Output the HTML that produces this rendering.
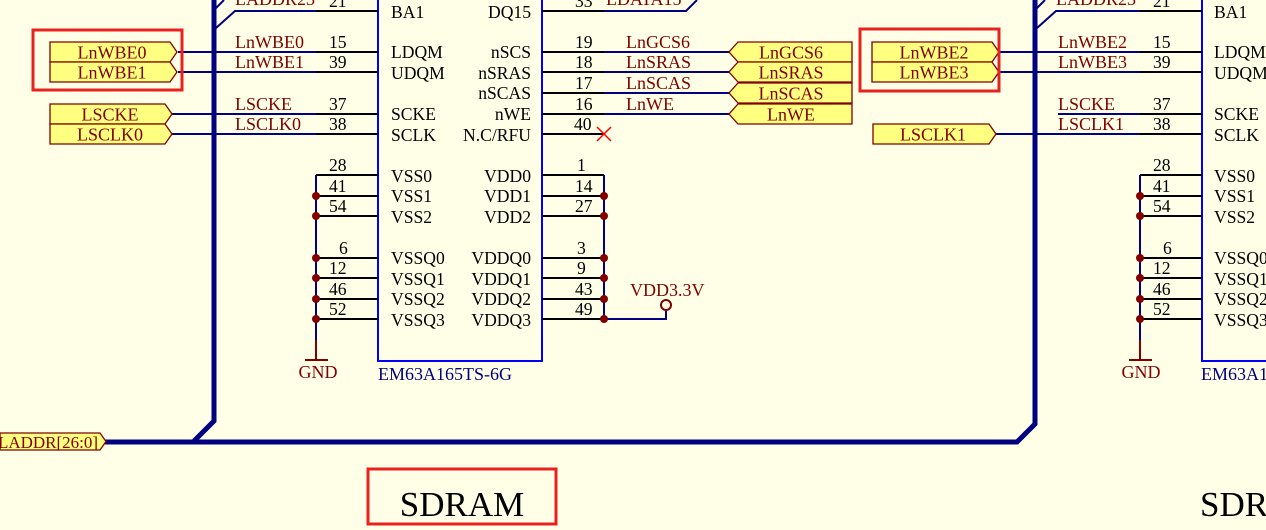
<!DOCTYPE html>
<html><head><meta charset="utf-8"><style>
html,body{margin:0;padding:0;background:#FFFFE8;}
svg{display:block;font-family:"Liberation Serif",serif;}
.pn{font-size:17.6px;fill:#000;}
.nl{font-size:18px;fill:#800000;}
.lb{fill:#FFFF80;stroke:#800000;stroke-width:1.3;}
.lt{font-size:18px;fill:#800000;text-anchor:middle;}
.w{stroke:#000080;stroke-width:2;fill:none;}
.p{stroke:#000;stroke-width:2;}
.bx{stroke:#0000FF;stroke-width:2;fill:none;}
.d{fill:#800000;}
.rb{fill:none;stroke:#E82020;stroke-width:3;}
</style></head><body>
<svg width="1266" height="530" viewBox="0 0 1266 530" xmlns="http://www.w3.org/2000/svg">
<rect width="1266" height="530" fill="#FFFFE8"/>
<path d="M214 0 V421 L194 441 M105 442 H1017 L1035 424 V0" stroke="#000080" stroke-width="5" fill="none"/>
<path d="M214 10 L224 0 M216 28 L235 11 H316" class="w"/>
<path d="M1035 10 L1045 0 M1037 28 L1056 11 H1140" class="w"/>
<text x="235" y="5" class="nl">LADDR23</text>
<text x="1056" y="5" class="nl">LADDR23</text>
<path d="M0 433 H100 L106 441.5 L100 450 H0 Z" class="lb"/>
<text x="48" y="448" class="lt" style="font-size:17px">LADDR[26:0]</text>

<path d="M378 0 V361 H542 V0" class="bx"/>
<text x="378" y="380" style="font-size:18px;fill:#000080">EM63A165TS-6G</text>
<g class="p">
<line x1="316" y1="11" x2="378" y2="11"/><line x1="316" y1="52" x2="378" y2="52"/><line x1="316" y1="72" x2="378" y2="72"/>
<line x1="316" y1="114" x2="378" y2="114"/><line x1="316" y1="134" x2="378" y2="134"/>
<line x1="316" y1="175" x2="378" y2="175"/><line x1="316" y1="196" x2="378" y2="196"/><line x1="316" y1="216" x2="378" y2="216"/>
<line x1="316" y1="258" x2="378" y2="258"/><line x1="316" y1="278" x2="378" y2="278"/><line x1="316" y1="299" x2="378" y2="299"/><line x1="316" y1="319" x2="378" y2="319"/>
<line x1="542" y1="11" x2="604" y2="11"/><line x1="542" y1="52" x2="604" y2="52"/><line x1="542" y1="72" x2="604" y2="72"/><line x1="542" y1="93" x2="604" y2="93"/>
<line x1="542" y1="114" x2="604" y2="114"/><line x1="542" y1="134" x2="604" y2="134"/>
<line x1="542" y1="175" x2="604" y2="175"/><line x1="542" y1="196" x2="604" y2="196"/><line x1="542" y1="216" x2="604" y2="216"/>
<line x1="542" y1="258" x2="604" y2="258"/><line x1="542" y1="278" x2="604" y2="278"/><line x1="542" y1="299" x2="604" y2="299"/><line x1="542" y1="319" x2="604" y2="319"/>
</g>
<g class="pn">
<text x="329" y="7">21</text><text x="329" y="48">15</text><text x="329" y="68">39</text><text x="329" y="110">37</text><text x="329" y="130">38</text>
<text x="329" y="171">28</text><text x="329" y="192">41</text><text x="329" y="212">54</text>
<text x="339" y="254">6</text><text x="329" y="274">12</text><text x="329" y="295">46</text><text x="329" y="315">52</text>
<text x="391" y="18">BA1</text><text x="391" y="58">LDQM</text><text x="391" y="79">UDQM</text><text x="391" y="120">SCKE</text><text x="391" y="141">SCLK</text>
<text x="391" y="182">VSS0</text><text x="391" y="202">VSS1</text><text x="391" y="223">VSS2</text>
<text x="391" y="264">VSSQ0</text><text x="391" y="285">VSSQ1</text><text x="391" y="305">VSSQ2</text><text x="391" y="326">VSSQ3</text>
</g>
<g class="pn" text-anchor="end">
<text x="531" y="18">DQ15</text><text x="531" y="58">nSCS</text><text x="531" y="79">nSRAS</text><text x="531" y="99">nSCAS</text><text x="531" y="120">nWE</text><text x="531" y="141">N.C/RFU</text>
<text x="531" y="182">VDD0</text><text x="531" y="202">VDD1</text><text x="531" y="223">VDD2</text>
<text x="531" y="264">VDDQ0</text><text x="531" y="285">VDDQ1</text><text x="531" y="305">VDDQ2</text><text x="531" y="326">VDDQ3</text>
</g>
<g class="pn">
<text x="575" y="7">33</text><text x="575" y="48">19</text><text x="575" y="68">18</text><text x="575" y="89">17</text><text x="575" y="110">16</text><text x="574" y="130">40</text>
<text x="577" y="171">1</text><text x="575" y="192">14</text><text x="575" y="212">27</text>
<text x="577" y="254">3</text><text x="577" y="274">9</text><text x="575" y="295">43</text><text x="575" y="315">49</text>
</g>
<path d="M604 11 H686 L697 0" class="w"/>
<text x="606" y="5" class="nl">LDATA15</text>
<path d="M597 127 L611 141 M611 127 L597 141" stroke="#FF0000" stroke-width="1.5"/>
<path d="M178 52 H316 M178 72 H316 M172 114 H316 M172 134 H316" class="w"/>
<text x="235" y="48" class="nl">LnWBE0</text><text x="235" y="68" class="nl">LnWBE1</text>
<text x="235" y="110" class="nl">LSCKE</text><text x="235" y="130" class="nl">LSCLK0</text>
<path d="M50 42 H170 L177 52 L170 62 H50 Z" class="lb"/><text x="112" y="58.5" class="lt">LnWBE0</text>
<path d="M50 62 H170 L177 72 L170 82 H50 Z" class="lb"/><text x="112" y="78.5" class="lt">LnWBE1</text>
<path d="M50 104 H165 L172 114 L165 124 H50 Z" class="lb"/><text x="110" y="120.5" class="lt">LSCKE</text>
<path d="M50 124 H165 L172 134 L165 144 H50 Z" class="lb"/><text x="110" y="140.5" class="lt">LSCLK0</text>
<rect x="33" y="30" width="149" height="60" class="rb"/>
<path d="M604 52 H730 M604 72 H730 M604 93 H730 M604 114 H730" class="w"/>
<text x="626" y="48" class="nl">LnGCS6</text><text x="626" y="68" class="nl">LnSRAS</text><text x="626" y="89" class="nl">LnSCAS</text><text x="626" y="110" class="nl">LnWE</text>
<path d="M852 42 H738 L729 52 L738 62 H852 Z" class="lb"/><text x="791" y="58.5" class="lt">LnGCS6</text>
<path d="M852 62 H738 L729 72 L738 82 H852 Z" class="lb"/><text x="791" y="78.5" class="lt">LnSRAS</text>
<path d="M852 83 H738 L729 93 L738 103 H852 Z" class="lb"/><text x="791" y="99.5" class="lt">LnSCAS</text>
<path d="M852 104 H738 L729 114 L738 124 H852 Z" class="lb"/><text x="791" y="120.5" class="lt">LnWE</text>
<path d="M316 175 V340" class="w"/>
<path d="M316 340 V360 M305 360 H328" stroke="#800000" stroke-width="2"/>
<text x="318" y="378" class="lt">GND</text>
<g class="d"><circle cx="316" cy="196" r="4"/><circle cx="316" cy="216" r="4"/><circle cx="316" cy="258" r="4"/><circle cx="316" cy="278" r="4"/><circle cx="316" cy="299" r="4"/><circle cx="316" cy="319" r="4"/></g>
<path d="M604 175 V319 H666 V311" class="w"/>
<circle cx="666" cy="305" r="5" fill="none" stroke="#800000" stroke-width="2"/>
<text x="630" y="296" class="nl">VDD3.3V</text>
<g class="d"><circle cx="604" cy="196" r="4"/><circle cx="604" cy="216" r="4"/><circle cx="604" cy="258" r="4"/><circle cx="604" cy="278" r="4"/><circle cx="604" cy="299" r="4"/><circle cx="604" cy="319" r="4"/></g>

<path d="M1202 0 V361 H1270" class="bx"/>
<text x="1201" y="380" style="font-size:18px;fill:#000080">EM63A165TS-6G</text>
<g class="p">
<line x1="1140" y1="11" x2="1202" y2="11"/><line x1="1140" y1="52" x2="1202" y2="52"/><line x1="1140" y1="72" x2="1202" y2="72"/>
<line x1="1140" y1="114" x2="1202" y2="114"/><line x1="1140" y1="134" x2="1202" y2="134"/>
<line x1="1140" y1="175" x2="1202" y2="175"/><line x1="1140" y1="196" x2="1202" y2="196"/><line x1="1140" y1="216" x2="1202" y2="216"/>
<line x1="1140" y1="258" x2="1202" y2="258"/><line x1="1140" y1="278" x2="1202" y2="278"/><line x1="1140" y1="299" x2="1202" y2="299"/><line x1="1140" y1="319" x2="1202" y2="319"/>
</g>
<g class="pn">
<text x="1153" y="7">21</text><text x="1153" y="48">15</text><text x="1153" y="68">39</text><text x="1153" y="110">37</text><text x="1153" y="130">38</text>
<text x="1153" y="171">28</text><text x="1153" y="192">41</text><text x="1153" y="212">54</text>
<text x="1163" y="254">6</text><text x="1153" y="274">12</text><text x="1153" y="295">46</text><text x="1153" y="315">52</text>
<text x="1214" y="18">BA1</text><text x="1214" y="58">LDQM</text><text x="1214" y="79">UDQM</text><text x="1214" y="120">SCKE</text><text x="1214" y="141">SCLK</text>
<text x="1214" y="182">VSS0</text><text x="1214" y="202">VSS1</text><text x="1214" y="223">VSS2</text>
<text x="1214" y="264">VSSQ0</text><text x="1214" y="285">VSSQ1</text><text x="1214" y="305">VSSQ2</text><text x="1214" y="326">VSSQ3</text>
</g>
<path d="M1000 52 H1140 M1000 72 H1140 M1058 114 H1140 M996 134 H1140" class="w"/>
<text x="1058" y="48" class="nl">LnWBE2</text><text x="1058" y="68" class="nl">LnWBE3</text>
<text x="1058" y="110" class="nl">LSCKE</text><text x="1058" y="130" class="nl">LSCLK1</text>
<path d="M872 42 H992 L999 52 L992 62 H872 Z" class="lb"/><text x="934" y="58.5" class="lt">LnWBE2</text>
<path d="M872 62 H992 L999 72 L992 82 H872 Z" class="lb"/><text x="934" y="78.5" class="lt">LnWBE3</text>
<path d="M873 124 H989 L996 134 L989 144 H873 Z" class="lb"/><text x="933" y="140.5" class="lt">LSCLK1</text>
<rect x="860" y="29" width="139" height="62" class="rb"/>
<path d="M1140 175 V340" class="w"/>
<path d="M1140 340 V360 M1129 360 H1152" stroke="#800000" stroke-width="2"/>
<text x="1141" y="378" class="lt">GND</text>
<g class="d"><circle cx="1140" cy="196" r="4"/><circle cx="1140" cy="216" r="4"/><circle cx="1140" cy="258" r="4"/><circle cx="1140" cy="278" r="4"/><circle cx="1140" cy="299" r="4"/><circle cx="1140" cy="319" r="4"/></g>

<rect x="368" y="469" width="188" height="55" class="rb"/>
<text x="462" y="516" text-anchor="middle" style="font-size:35px;fill:#000">SDRAM</text>
<text x="1200" y="516" style="font-size:35px;fill:#000">SDRAM</text>
</svg>
</body></html>
